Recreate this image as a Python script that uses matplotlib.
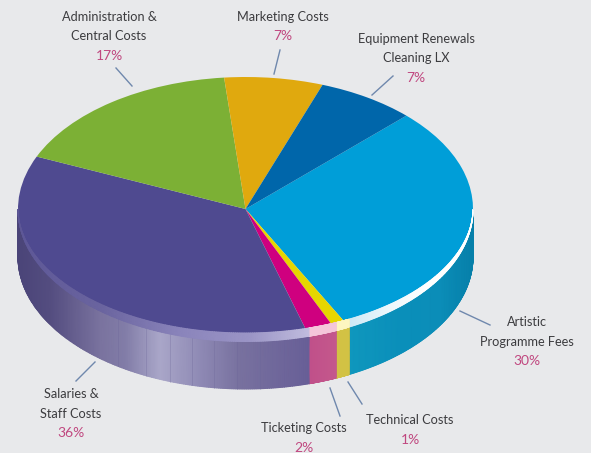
import matplotlib
matplotlib.use("Agg")
import matplotlib.pyplot as plt
import numpy as np
from matplotlib.colors import LinearSegmentedColormap
from matplotlib.transforms import Affine2D

# slices, clockwise from the top right
names = ["Artistic\nProgramme Fees", "Technical Costs", "Ticketing Costs", "Salaries &\nStaff Costs",
         "Administration &\nCentral Costs", "Marketing Costs", "Equipment Renewals\nCleaning LX"]
values = [30, 1, 2, 36, 17, 7, 7]
colors = ["#009ed8", "#e6d600", "#cf007f", "#4f4a90", "#7cb035", "#e0a90e", "#0066aa"]

# where each label goes (centre x, first line y)
label_x = [527, 410, 304, 71, 109, 283, 416]
label_y = [322, 420, 428, 394, 17, 17, 39]

# leader lines: x0, y0, x1, y1
leaders = [(460, 311, 490, 325), (348, 382, 362, 404), (330, 388, 340, 416), (95, 362, 76, 381),
           (116, 68, 132, 86), (280, 50, 274, 74), (393, 76, 372, 95)]

# side wall and rim shading, (x position, colour)
wall_stops = {
    0: [(349, "#0f97bd"), (400, "#0a8fba"), (440, "#0b8db8"), (472, "#0680aa")],
    1: [(336, "#d2c244"), (349, "#d2c244")],
    2: [(309, "#c0508a"), (336, "#c4588c")],
    3: [(17, "#4a4478"), (50, "#544d80"), (100, "#7a739f"), (125, "#827da8"), (160, "#aaa7c9"),
        (200, "#8f8ab5"), (240, "#78719f"), (309, "#685f97")],
}
rim_stops = {
    0: [(349, "#cfe9f6"), (390, "#eef8fc"), (425, "#ffffff"), (472, "#ffffff")],
    1: [(336, "#fdf6c0"), (349, "#fdf6c0")],
    2: [(309, "#f5c6da"), (336, "#f5c6da")],
    3: [(17, "#5d5797"), (100, "#6a649f"), (180, "#8a84bb"), (250, "#9b95c6"), (309, "#c0bcde")],
}
wall_seams = [118, 146, 170, 192, 214, 237, 260, 284]

cx, cy, rx, ry = 245.5, 209, 227.5, 132
depth = 48
rim = 8

plt.rcParams["font.family"] = ["Lato", "DejaVu Sans"]
fig = plt.figure(figsize=(5.91, 4.53), dpi=100, facecolor="#e8e9eb")
ax = fig.add_axes([0, 0, 1, 1])

wedges, _ = ax.pie(values, colors=colors, startangle=45, counterclock=False, radius=1,
                   wedgeprops={"linewidth": 0})
ax.set_aspect("auto")
ax.set_xlim(0, 591)
ax.set_ylim(453, 0)
squash = Affine2D().scale(rx, -ry).translate(cx, cy) + ax.transData
for w in wedges:
    w.set_transform(squash)
    w.set_zorder(3)

edges = 45 - np.cumsum([0] + values) * 3.6


def cmap_for(stops):
    x0, x1 = stops[0][0], stops[-1][0]
    pts = [((x - x0) / (x1 - x0), c) for x, c in stops]
    return LinearSegmentedColormap.from_list("s", pts), x0, x1


for i in wall_stops:
    # only the part of a slice in the lower half shows a wall
    t0 = edges[i]
    t1 = edges[i + 1]
    if i == 3:
        t1 = -180
    if i == 0:
        t0 = 0
    th = np.radians(np.linspace(t0, t1, 200))
    xs = cx + rx * np.cos(th)
    ys = cy - ry * np.sin(th)
    wall_map, x0, x1 = cmap_for(wall_stops[i])
    rim_map, _, _ = cmap_for(rim_stops[i])
    shade = np.clip((xs - x0) / (x1 - x0), 0, 1)
    grid_x = np.array([xs, xs])
    ax.pcolormesh(grid_x, np.array([ys, ys + depth]), np.array([shade, shade]),
                  cmap=wall_map, vmin=0, vmax=1, shading="gouraud", zorder=2)
    # light edge along the front of the top face
    thick = rim * np.abs(np.sin(th)) ** 0.7
    ax.pcolormesh(grid_x, np.array([ys - thick, ys + 0.5]), np.array([shade, shade]),
                  cmap=rim_map, vmin=0, vmax=1, shading="gouraud", zorder=4)

for sx in wall_seams:
    sy = cy + ry * np.sqrt(1 - ((sx - cx) / rx) ** 2)
    ax.plot([sx, sx], [sy, sy + depth], color="#6a6397", lw=0.5, alpha=0.4, zorder=2.5)

for x0, y0, x1, y1 in leaders:
    ax.plot([x0, x1], [y0, y1], color="#6f88ad", lw=1, zorder=5)

for name, val, x, y in zip(names, values, label_x, label_y):
    lines = name.split("\n")
    for n, line in enumerate(lines):
        ax.text(x, y + n * 19.5, line, ha="center", va="center", fontsize=9.2, color="#3c3c3f")
    ax.text(x, y + len(lines) * 19.5, f"{val}%", ha="center", va="center", fontsize=10, color="#c0477f")

ax.axis("off")
fig.savefig("out.png", dpi=100, facecolor=fig.get_facecolor())
